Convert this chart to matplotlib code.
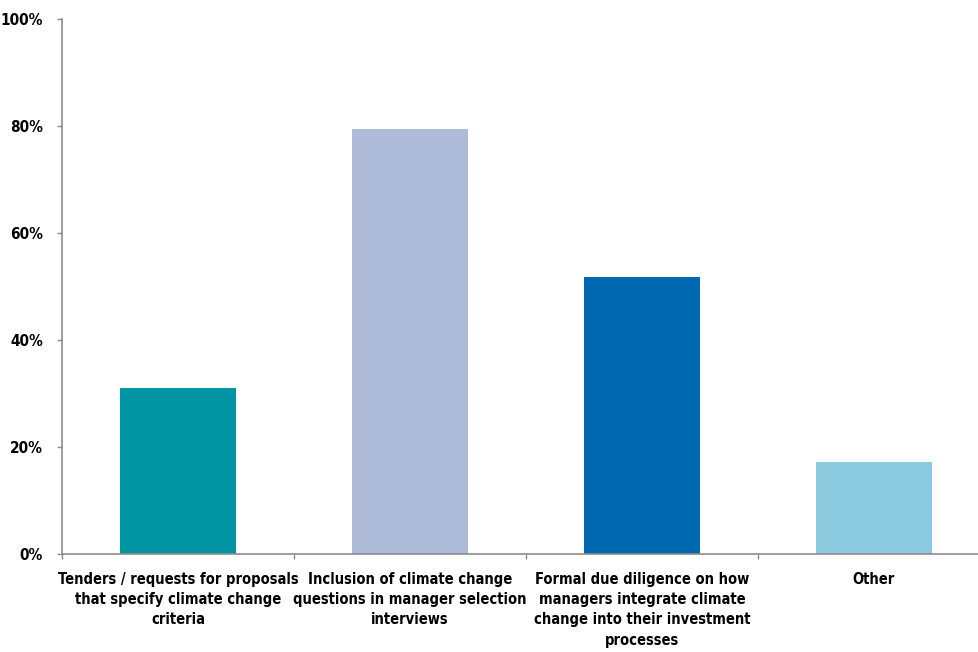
import matplotlib
matplotlib.use('Agg')
import matplotlib.pyplot as plt
from matplotlib.ticker import PercentFormatter

plt.rcParams['font.family'] = ['DejaVu Sans']
plt.rcParams['font.stretch'] = 'condensed'

categories = [
    'Tenders / requests for proposals\nthat specify climate change\ncriteria',
    'Inclusion of climate change\nquestions in manager selection\ninterviews',
    'Formal due diligence on how\nmanagers integrate climate\nchange into their investment\nprocesses',
    'Other',
]
values = [31.0, 79.4, 51.8, 17.2]
colors = ['#0095A0', '#AEBBD8', '#0067B1', '#8CCBDF']

fig = plt.figure(figsize=(9.79, 6.52), dpi=100)
W, H = 979, 652
ax = fig.add_axes([62 / W, (652 - 554) / H, (990 - 62) / W, (554 - 19) / H])

x = range(len(categories))
ax.bar(x, values, width=0.5, color=colors)

ax.set_xlim(-0.5, len(categories) - 0.5)
ax.set_ylim(0, 100)
ax.set_yticks([0, 20, 40, 60, 80, 100])
ax.yaxis.set_major_formatter(PercentFormatter(decimals=0))

# category labels, with ticks between categories
ax.set_xticks([i + 0.5 for i in range(-1, len(categories))])
ax.set_xticklabels([])
for i, lab in enumerate(categories):
    ax.text(i, -3.3, lab, ha='center', va='top', fontsize=10.5,
            fontweight='bold', fontstretch='condensed', linespacing=1.45)

for s in ['top', 'right']:
    ax.spines[s].set_visible(False)
for s in ['left', 'bottom']:
    ax.spines[s].set_color('#8c8c8c')
    ax.spines[s].set_linewidth(1.2)
ax.tick_params(axis='both', colors='#8c8c8c', length=3.6, width=1.0)
ax.tick_params(axis='y', labelcolor='black', labelsize=11, pad=10)
for t in ax.get_yticklabels():
    t.set_fontweight('bold')
    t.set_fontstretch('condensed')

fig.savefig('out.png', dpi=100)
